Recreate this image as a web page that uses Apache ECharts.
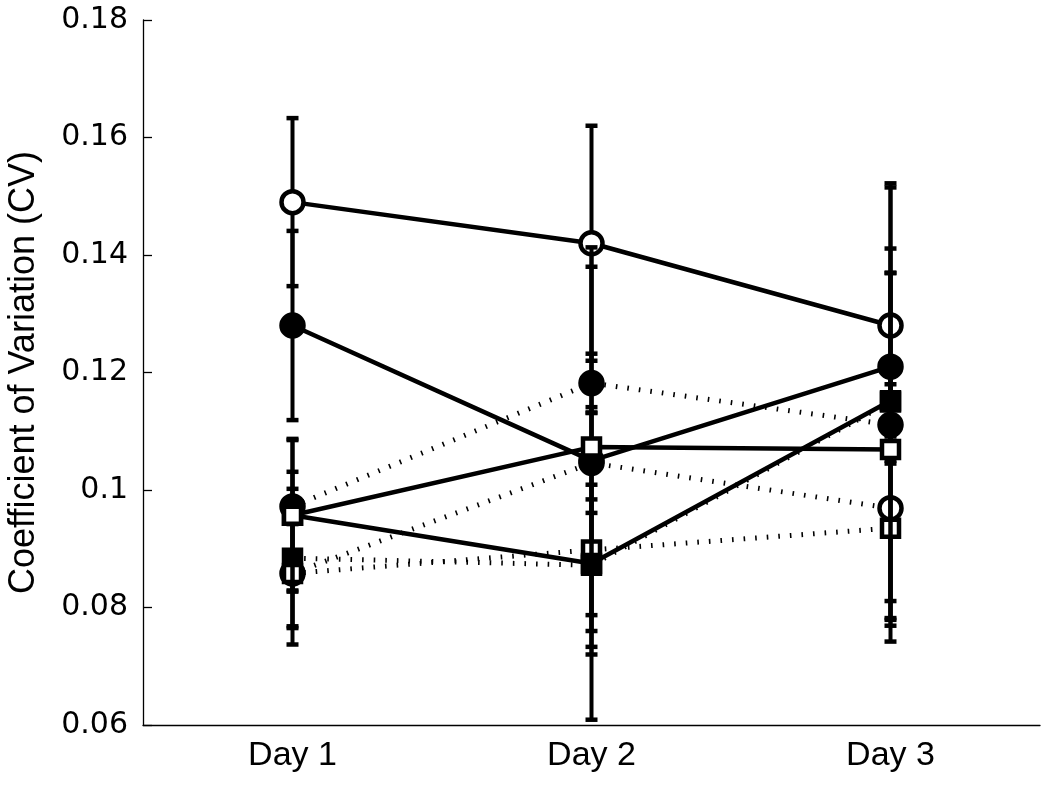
<!DOCTYPE html>
<html>
<head>
<meta charset="utf-8">
<script src="https://cdn.jsdelivr.net/npm/echarts@6/dist/echarts.min.js"></script>
<style>
  html, body { margin: 0; padding: 0; background: #fff; }
  #main { width: 1050px; height: 786px; }
</style>
</head>
<body>
<div id="main"></div>
<script>
// categories and y ticks
var days = ['Day 1', 'Day 2', 'Day 3'];
var yTicks = [0.06, 0.08, 0.1, 0.12, 0.14, 0.16, 0.18];

// solid lines (means and error half-widths)
var ocSolid = [0.149, 0.142, 0.128];
var ocSolidErr = [0.0143, 0.020, 0.0235];
var fcSolid = [0.128, 0.105, 0.121];
var fcSolidErr = [0.0161, 0.033, 0.016];
var osSolid = [0.0957, 0.1073, 0.1069];
var osSolidErr = [0.013, 0.034, 0.030];
var fsSolid = [0.0957, 0.0875, 0.1152];
var fsSolidErr = [0.0128, 0.0266, 0.037];

// dotted lines
var ocDotted = [0.0858, 0.1046, 0.0969];
var ocDottedErr = [0.0093, 0.0085, 0.0227];
var fcDotted = [0.0972, 0.1182, 0.1111];
var fcDottedErr = [0.003, 0.005, 0.030];
var osDotted = [0.0858, 0.0898, 0.0935];
var osDottedErr = [0.009, 0.0111, 0.0156];
var fsDotted = [0.0884, 0.0872, 0.115];
var fsDottedErr = [0.0147, 0.0112, 0.003];

var chart = echarts.init(document.getElementById('main'));

function errRender(params, api) {
  var x = api.value(0);
  var lo = api.coord([x, api.value(1)]);
  var hi = api.coord([x, api.value(2)]);
  var cw = 12, ch = 4.5;
  return {
    type: 'group',
    children: [
      { type: 'line', shape: { x1: lo[0], y1: lo[1], x2: hi[0], y2: hi[1] },
        style: { stroke: '#000', lineWidth: 4 } },
      { type: 'rect', shape: { x: hi[0] - cw / 2, y: hi[1] - ch / 2, width: cw, height: ch },
        style: { fill: '#000' } },
      { type: 'rect', shape: { x: lo[0] - cw / 2, y: lo[1] - ch / 2, width: cw, height: ch },
        style: { fill: '#000' } }
    ]
  };
}

// drawing order matters: later series cover earlier markers
var defs = [
  { vals: ocDotted, err: ocDottedErr, sym: 'circle', open: true,  dotted: true },
  { vals: ocSolid,  err: ocSolidErr,  sym: 'circle', open: true,  dotted: false },
  { vals: fcSolid,  err: fcSolidErr,  sym: 'circle', open: false, dotted: false },
  { vals: fcDotted, err: fcDottedErr, sym: 'circle', open: false, dotted: true },
  { vals: fsDotted, err: fsDottedErr, sym: 'rect',   open: false, dotted: true },
  { vals: osDotted, err: osDottedErr, sym: 'rect',   open: true,  dotted: true },
  { vals: fsSolid,  err: fsSolidErr,  sym: 'rect',   open: false, dotted: false },
  { vals: osSolid,  err: osSolidErr,  sym: 'rect',   open: true,  dotted: false }
];

var series = [];
defs.forEach(function (d, i) {
  series.push({
    type: 'custom',
    renderItem: errRender,
    z: 2 + i * 2,
    encode: { x: 0, y: [1, 2] },
    data: d.vals.map(function (v, k) { return [k, v - d.err[k], v + d.err[k]]; })
  });
  series.push({
    type: 'line',
    z: 3 + i * 2,
    data: d.vals,
    symbol: d.sym,
    symbolSize: d.sym === 'circle' ? 22 : 17,
    showAllSymbol: true,
    itemStyle: { color: d.open ? '#fff' : '#000', borderColor: '#000', borderWidth: 4.5 },
    lineStyle: d.dotted
      ? { color: '#000', width: 5, type: [1.6, 10], cap: 'butt' }
      : { color: '#000', width: 4.5 },
    emphasis: { disabled: true }
  });
});

chart.setOption({
  animation: false,
  backgroundColor: '#fff',
  grid: { left: 143, right: 10, top: 20, bottom: 61, outerBoundsMode: 'none' },
  xAxis: {
    type: 'category',
    data: days,
    boundaryGap: true,
    axisLine: { lineStyle: { color: '#000', width: 1.3 } },
    axisTick: { alignWithLabel: true, inside: true, length: 9, lineStyle: { color: '#000', width: 1.3 } },
    axisLabel: { color: '#000', fontSize: 34, fontFamily: 'Liberation Sans', margin: 14 },
    splitLine: { show: false }
  },
  yAxis: {
    type: 'value',
    min: yTicks[0],
    max: yTicks[yTicks.length - 1],
    interval: 0.02,
    name: 'Coefficient of Variation (CV)',
    nameLocation: 'middle',
    nameGap: 101,
    nameTextStyle: { color: '#000', fontSize: 36, fontFamily: 'Liberation Sans' },
    axisLine: { show: true, lineStyle: { color: '#000', width: 1.3 } },
    axisTick: { show: true, inside: true, length: 9, lineStyle: { color: '#000', width: 1.3 } },
    axisLabel: {
      color: '#000', fontSize: 30, fontFamily: 'DejaVu Sans', margin: 15,
      formatter: function (v) { return String(+v.toFixed(2)); }
    },
    splitLine: { show: false }
  },
  series: series
});
</script>
</body>
</html>
